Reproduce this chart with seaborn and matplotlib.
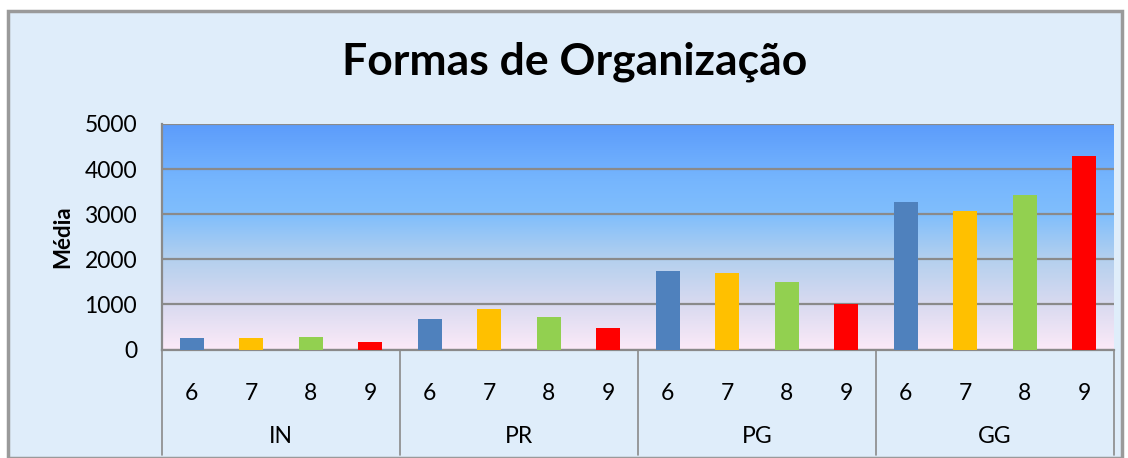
import numpy as np
import pandas as pd
import matplotlib
matplotlib.use("Agg")
import matplotlib.pyplot as plt
from matplotlib.colors import LinearSegmentedColormap
from matplotlib.patches import FancyBboxPatch
from matplotlib.lines import Line2D
import seaborn as sns

# data
grupos = ["IN", "PR", "PG", "GG"]
anos = ["6", "7", "8", "9"]
media_IN = [245, 250, 275, 165]
media_PR = [680, 895, 720, 475]
media_PG = [1740, 1695, 1495, 1005]
media_GG = [3270, 3070, 3415, 4290]
yticks = [0, 1000, 2000, 3000, 4000, 5000]

cores = {"6": "#4F81BD", "7": "#FFC000", "8": "#92D050", "9": "#FF0000"}

rows = []
for g, vals in zip(grupos, [media_IN, media_PR, media_PG, media_GG]):
    for a, v in zip(anos, vals):
        rows.append({"grupo": g, "ano": a, "pos": g + "-" + a, "media": v})
df = pd.DataFrame(rows)

sns.set_style("white")
plt.rcParams["font.family"] = ["Lato", "DejaVu Sans"]
plt.rcParams["text.color"] = "black"
plt.rcParams["axes.labelcolor"] = "black"
plt.rcParams["xtick.color"] = "black"
plt.rcParams["ytick.color"] = "black"

fig = plt.figure(figsize=(11.28, 4.58), dpi=100)
fig.patch.set_facecolor("white")

# chart frame
frame = FancyBboxPatch((8 / 1128, 0.0), 1114 / 1128, 1 - 11 / 458,
                       boxstyle="square,pad=0", transform=fig.transFigure,
                       facecolor="#DFEDFA", edgecolor="#9A9A9A", linewidth=2.5,
                       zorder=-10)
fig.patches.append(frame)

ax = fig.add_axes([162 / 1128, 1 - 349.5 / 458, (1114 - 162) / 1128, (349.5 - 124) / 458])
ax.set_facecolor("none")

# plot area gradient
grad = LinearSegmentedColormap.from_list("fundo", [
    (0.0, "#FCEAF8"), (0.2, "#D9DAF0"), (0.4, "#B4D0EE"),
    (0.6, "#80BEFC"), (0.75, "#76B6FE"), (1.0, "#5C9CFB")])
ax.imshow(np.linspace(0, 1, 256).reshape(-1, 1), cmap=grad, origin="lower",
          extent=[-0.5, 15.5, 0, 5000], aspect="auto", zorder=0)

sns.barplot(data=df, x="pos", y="media", hue="ano", palette=cores,
            dodge=False, width=0.41, legend=False, saturation=1,
            edgecolor="none", linewidth=0, ax=ax, zorder=3)

ax.set_xlim(-0.5, 15.5)
ax.set_ylim(0, 5000)
ax.set_yticks(yticks)
ax.set_yticklabels([str(t) for t in yticks], fontsize=16.5)
ax.yaxis.grid(True, color="#8A8A8A", linewidth=1.6, zorder=1)
ax.set_axisbelow(False)
for line in ax.get_ygridlines():
    line.set_zorder(1)
ax.tick_params(axis="y", direction="out", length=6, width=1.2, color="#8A8A8A", pad=12)

ax.set_xticks(range(16))
ax.set_xticklabels(anos * 4, fontsize=16.5)
ax.tick_params(axis="x", length=0, pad=24)
ax.set_xlabel("")
ax.set_ylabel("Média", fontsize=16, fontweight="bold", labelpad=8)

for s in ["top", "right"]:
    ax.spines[s].set_visible(False)
for s in ["left", "bottom"]:
    ax.spines[s].set_color("#8A8A8A")
    ax.spines[s].set_linewidth(1.6)

# category group separators and labels
for i in range(5):
    ax.add_line(Line2D([i * 4 - 0.5] * 2, [0, -0.468], color="#8A8A8A", linewidth=1.2,
                       transform=ax.get_xaxis_transform(), clip_on=False))
for i, g in enumerate(grupos):
    ax.text(i * 4 + 1.5, -0.385, g, transform=ax.get_xaxis_transform(),
            ha="center", va="center", fontsize=16.5)

fig.text(575 / 1128, 1 - 62 / 458, "Formas de Organização", ha="center", va="center",
         fontsize=32, fontweight="bold")

fig.savefig("out.png", dpi=100)
